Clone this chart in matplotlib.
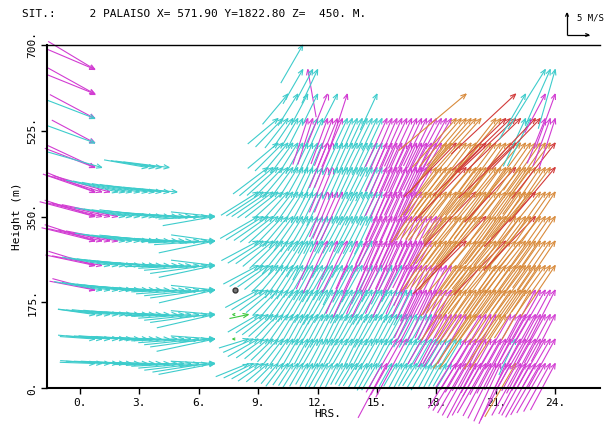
import numpy as np
import matplotlib
matplotlib.use("Agg")
import matplotlib.pyplot as plt
from matplotlib.collections import LineCollection

plt.rcParams["font.family"] = ["DejaVu Sans Mono"]

# niveaux de mesure (m)
levels = [50, 100, 150, 200, 250, 300, 350, 400, 450, 500, 550, 600, 650, 700]

# code couleur : c=cyan, m=magenta, o=orange, r=rouge, g=vert, .=pas de donnee
colors = {"c": "#3ecccc", "m": "#d23cd2", "o": "#d98b3c", "r": "#d23a3a", "g": "#3cc83c"}

# ---- matin (profils, doublons = eventails) ----
am_hours = [0.75, 0.75, 1.1, 1.5, 1.9, 2.25, 2.6, 3.0, 3.4, 3.75, 4.1, 4.5, 4.9,
            5.25, 5.6, 6.0, 6.4, 6.8, 6.8, 6.8]
am_col = {
    650: "mm" + "." * 18, 600: "mm" + "." * 18,
    550: "mc" + "." * 18, 500: "mc" + "." * 18,
    450: "mmc" + "." * 5 + "cccc" + "." * 8,
    400: "mmmm" + "c" * 9 + "." * 7,
    350: "mmmmm" + "c" * 15,
    300: "mmmmm" + "c" * 15,
    250: "mmm" + "c" * 17,
    200: "mm" + "c" * 18,
    150: "c." + "c" * 18,
    100: "c." + "c" * 18,
    50: "c." + "c" * 18,
}
# vitesse (m/s)
am_spd = {
    650: [12.4, 11.8], 600: [12.2, 11.7], 550: [11.6, 11.6], 500: [11.1, 11.6],
    450: [11.8, 12.2, 12.7, 10, 10, 10.5, 10.5],
    400: [12, 12.5, 13, 13.5, 12, 12, 11.5, 11, 11, 11, 10.5, 10.5, 10],
    350: [12, 13, 13, 13.5, 13, 11.5, 11, 11, 11, 11, 10.5, 10.5, 10, 10, 10, 10.5,
          11, 12, 10, 9],
    300: [12, 12.5, 12.5, 12, 12, 11.5, 11, 11, 11, 11.5, 11.5, 11, 11, 11, 11.5,
          11.5, 12, 13, 10, 8],
    250: [11, 11.5, 11.5, 11, 11, 11, 11, 11.5, 11.5, 11, 11.5, 11.5, 12, 12, 12,
          12.5, 13, 13, 10, 8],
    200: [10, 10.5, 11, 11, 11, 11, 11, 11.5, 11.5, 11.5, 12, 12, 12, 12, 12.5,
          12.5, 13, 13, 10, 8],
    150: [8.5, 10, 10, 10.5, 10.5, 11, 11, 11, 11, 11.5, 11.5, 12, 12, 12, 12.5, 13,
          13.5, 10, 8],
    100: [8, 10, 10, 10, 10.5, 10.5, 11, 11, 11, 11.5, 11.5, 12, 12, 12, 12.5, 13,
          13.5, 10, 8],
    50: [8, 9.5, 10, 10, 10, 10.5, 10.5, 11, 11, 11, 11.5, 11.5, 12, 12, 12.5, 12.5,
         13, 10, 8],
}
# direction de la fleche (deg, depuis l'est)
am_ang = {
    650: [-31, -23], 600: [-29, -22], 550: [-28, -21], 500: [-28, -20],
    450: [-25, -21, -16, -10, -9, -8, -7],
    400: [-22, -19, -17, -16, -13, -12, -11, -10, -9, -8, -7, -6, -5],
    350: [-18, -15, -14, -13, -12, -10, -9, -8, -8, -7, -6, -5, -4, -3, -1, 1, 3,
          10, -6, 2],
    300: [-18, -14, -13, -12, -11, -9, -8, -7, -7, -6, -5, -4, -3, -2, 0, 2, 4, 12,
          -8, 4],
    250: [-17, -12, -11, -10, -9, -8, -7, -6, -5, -4, -3, -2, 0, 1, 3, 5, 8, 12, -7,
          3],
    200: [-15, -11, -10, -9, -8, -7, -6, -5, -4, -3, -2, -1, 0, 2, 4, 6, 8, 13, -6,
          4],
    150: [-8, -7, -6, -6, -5, -5, -4, -3, -3, -2, -1, 0, 2, 4, 6, 8, 13, -5, 5],
    100: [-4, -5, -4, -4, -4, -3, -3, -2, -2, -1, 0, 1, 2, 4, 6, 8, 12, -4, 5],
    50: [-2, -4, -3, -3, -3, -2, -2, -1, -1, 0, 1, 2, 3, 5, 7, 9, 11, -3, 5],
}

# ---- apres-midi : un profil par quart d'heure, 8h30 -> 24h ----
pm_hours = [8.5, 8.75, 9.0, 9.25, 9.5, 9.75, 10.0, 10.25, 10.5, 10.75, 11.0,
            11.25, 11.5, 11.75, 12.0, 12.25, 12.5, 12.75, 13.0, 13.25, 13.5,
            13.75, 14.0, 14.25, 14.5, 14.75, 15.0, 15.25, 15.5, 15.75, 16.0,
            16.25, 16.5, 16.75, 17.0, 17.25, 17.5, 17.75, 18.0, 18.25, 18.5,
            18.75, 19.0, 19.25, 19.5, 19.75, 20.0, 20.25, 20.5, 20.75, 21.0,
            21.25, 21.5, 21.75, 22.0, 22.25, 22.5, 22.75, 23.0, 23.25, 23.5,
            23.75, 24.0]
pm_col = {
    50: "c" * 28 + "m" + "c" * 13 + "m" * 12 + "o" + "m" * 8,
    100: "c" * 30 + "mmm" + "c" * 11 + "m" * 10 + "c" + "m" * 8,
    150: "g." + "c" * 36 + "m" * 7 + "oo" + "m" * 4 + "oo" + "m" * 10,
    200: ".." + "c" * 32 + "m" * 8 + "o" * 16 + "m" * 5,
    250: ".." + "c" * 18 + "mcmcmcmcmcmc" + "m" * 10 + "o" * 21,
    300: ".." + "c" * 12 + "mcmcmcmcmcmc" + "m" * 12 + "o" * 6 + "r" + "o" * 7 + "r" + "o" * 10,
    350: ".." + "c" * 24 + "m" * 14 + "o" * 8 + "r" + "o" * 9 + "r" + "o" * 4,
    400: ".." + "c" * 14 + "m" * 4 + "c" * 8 + "m" * 8 + "o" * 10 + "r" + "o" * 11 + "r" + "o" * 4,
    450: "...." + "c" * 12 + "mm" + "c" * 10 + "m" * 10 + "o" * 6 + "r" + "o" * 9 + "r" + "o" * 7 + "r",
    500: "......" + "c" * 10 + "mm" + "c" * 10 + "m" * 12 + "oor" + "o" * 5 + "r" + "o" * 5 + "r" + "o" * 7 + "r",
    550: "......" + "c" * 6 + "mm" + "cc" + "mmmm" + "c" * 8 + "m" * 14 + "o" * 6 + ".." + "oo" + "rrrr" + "cc" + "rr" + "mmm",
    600: "." * 8 + "c.c.c.c." + "m.c.m" + "." * 5 + "c" + "." * 17 + "o" + "." * 9 + "r.c" + "..." + "m.m",
    650: "." * 11 + "cmcc" + "." * 45 + "ccc",
    700: "." * 11 + "c" + "." * 51,
}
pm_spd = {
    50: [8, 7.5, 7, 7, 6.5, 6, 6, 6.5, 6, 6, 6.5, 6, 5.5, 6, 6, 6.5, 6.5, 6, 6, 5.5,
         5.5, 6, 6, 6.5, 6.5, 7, 7, 6.5, 14, 6, 6, 6.5, 6.5, 6, 6, 6.5, 7, 6.5, 6.5,
         6, 6, 6.5, 12, 12.5, 13, 13.5, 14, 13.5, 13, 13.5, 14, 14.5, 15, 14.5, 14,
         13.5, 13, 13.5, 14, 13.5, 13, 12.5, 12],
    100: [7, 7.5, 8, 7.5, 7, 7, 7, 7.5, 7, 7, 7.5, 7, 6.5, 7, 7, 7.5, 7.5, 7, 7, 6.5,
          6.5, 7, 7, 7.5, 7.5, 8, 8, 7.5, 7, 7, 14, 14.5, 15, 7, 7, 7.5, 7.5, 7, 7,
          7.5, 8, 8, 7.5, 8, 13, 13.5, 14, 13.5, 13, 14, 15, 14.5, 14, 13, 9, 12.5,
          13, 13.5, 14, 13.5, 13, 13, 13],
    150: [4.4, 8, 7.5, 7.5, 7.5, 7.5, 8, 8, 8, 8, 7.5, 7.5, 8, 8, 8.5, 8.5, 8, 7.5,
          7.5, 8, 8, 7.5, 8, 8, 8.5, 8.5, 8, 8, 7.5, 7.5, 8, 8, 8.5, 8.5, 8, 8, 8,
          13, 13, 13.5, 13, 14, 13.5, 13, 15, 15, 14, 14, 13.5, 13, 15, 15, 14, 14,
          13, 13.5, 13, 14, 14, 13, 12.5, 12],
    200: [8.5, 8.5, 8, 8, 8, 8.5, 8.5, 8.5, 8.5, 8, 8, 8.5, 8.5, 9, 9, 8.5, 8, 8, 8.5,
          8.5, 8, 8, 8.5, 9, 9, 8.5, 8.5, 8, 8, 8.5, 8.5, 9, 12, 12.5, 13, 13, 12,
          12.5, 13, 13, 14, 13.5, 13, 14, 15, 14.5, 14, 14, 14, 14.5, 15, 14.5, 14,
          13.5, 13, 13, 13, 13.5, 14, 13.5, 13],
    250: [9, 9, 8.5, 8.5, 8.5, 8.5, 9, 9, 9, 8.5, 8.5, 9, 9, 9.5, 9.5, 9, 9, 10, 12,
          9.5, 13, 9.5, 12, 10, 13, 9.5, 12, 10, 13, 9.5, 12, 10, 13, 13.5,
          14, 13.5, 13, 12.5, 12, 13, 14, 13.5, 13, 14, 15, 14.5, 14, 13.5, 13, 14,
          15, 14.5, 14, 13.5, 13, 13.5, 14, 13.5, 13, 13.5, 14],
    300: [9.5, 9.5, 9, 9, 9, 9, 9.5, 9.5, 9, 9, 9.5, 10, 12, 10, 13, 9.5, 12, 10,
          13, 9.5, 12, 10, 13, 9.5, 12, 12.5, 13, 12.5, 12, 12.5, 13, 12.5, 12,
          12.5, 13, 13.5, 14, 13.5, 13, 13.5, 14, 14.5, 17, 15, 14, 13.5, 13, 14, 15,
          15.5, 17, 15, 14, 14.5, 15, 14.5, 14, 13.5, 13, 13.5, 14],
    350: [10, 10, 9.5, 9.5, 9, 9, 9, 9, 9.5, 9.5, 9, 9, 9.5, 9.5, 9, 9, 9.5, 9.5, 9,
          9, 9.5, 9.5, 9, 9.5, 12, 12.5, 13, 12.5, 12, 12.5, 13, 12.5, 12, 12.5, 13,
          12.5, 12, 13, 14, 13.5, 13, 13.5, 14, 13.5, 13, 15, 17, 15, 14, 13.5, 13,
          14, 15, 14.5, 14, 15.5, 17, 15, 14, 14, 14],
    400: [10, 10, 10, 10, 9.5, 9, 9, 8.5, 8.5, 8, 8, 8, 8, 8.5, 11, 11.5, 12, 12, 8,
          8, 8.5, 8.5, 8, 8, 8.5, 8.5, 12, 12.5, 13, 12.5, 12, 12.5, 13, 13.5, 14,
          13.5, 13, 13.5, 14, 13.5, 13, 14, 15, 16, 17, 15, 14, 13.5, 13, 14, 15,
          14.5, 14, 13.5, 13, 15, 17, 15, 14, 14, 14],
    450: [10, 10, 9.5, 9.5, 9, 8.5, 8, 8, 7.5, 7.5, 8, 8, 11, 11, 8, 8, 7.5, 7.5, 8,
          8, 8.5, 8.5, 8, 8, 12, 12.5, 13, 12.5, 12, 12.5, 13, 12.5, 12, 13, 14, 13.5,
          13, 13.5, 14, 15, 17, 15, 14, 13.5, 13, 14, 15, 14.5, 14, 15, 17, 15, 14,
          13.5, 13, 14, 14, 15, 16],
    500: [9, 9, 8.5, 8.5, 8, 8, 7.5, 7.5, 7.5, 7.5, 11, 11, 8, 8, 7.5, 7.5, 8, 8, 8,
          8, 8.5, 8.5, 12, 12.5, 13, 12.5, 12, 12.5, 13, 12.5, 12, 12.5, 13, 13.5,
          14, 14.5, 17, 15, 14, 13.5, 13, 15, 17, 15, 14, 14.5, 15, 16, 18, 16, 14,
          13.5, 13, 13.5, 14, 15, 16],
    550: [9, 9, 8.5, 8, 7.5, 7.5, 11, 11, 7, 7, 11, 11.5, 12, 12, 7.5, 7.5, 7, 7,
          7.5, 7.5, 8, 8, 12, 12.5, 13, 12.5, 12, 12.5, 13, 12.5, 12, 12.5, 13, 13.5,
          14, 14, 15, 14.5, 14, 15, 16, 16, 14, 15, 17, 17.5, 18, 17, 12, 12, 16, 16,
          11, 11.5, 12],
    600: [9, 8.5, 8, 8, 12, 8, 12, 9, 20, 20, 12, 10, 13],
    650: [9, 11, 8, 8.5, 16, 14, 14],
    700: [10],
}
pm_ang = {
    50: [22, 26, 30, 35, 40, 45, 50, 53, 55, 57, 58, 60, 60, 61, 62, 60, 60, 62, 63,
         61, 60, 59, 58, 60, 62, 61, 60, 62, 62, 61, 60, 62, 62, 60, 58, 59, 60, 62,
         62, 61, 60, 59, 58, 59, 60, 61, 62, 61, 60, 62, 63, 65, 66, 62, 60, 61, 62,
         61, 61, 60, 60, 61, 62],
    100: [17, 24, 30, 35, 40, 44, 48, 52, 55, 58, 60, 61, 62, 61, 60, 62, 63, 62, 62,
          61, 60, 62, 64, 63, 62, 61, 60, 62, 63, 62, 60, 61, 62, 62, 62, 61, 60, 61,
          62, 60, 58, 59, 60, 59, 58, 59, 60, 61, 62, 61, 60, 61, 62, 63, 65, 62, 60,
          61, 62, 61, 60, 60, 61],
    150: [12, 30, 34, 38, 42, 46, 50, 55, 58, 60, 61, 62, 61, 60, 62, 62, 63, 64, 63,
          62, 61, 60, 61, 62, 62, 60, 61, 63, 62, 62, 61, 60, 61, 62, 61, 60, 60, 60,
          61, 62, 60, 58, 59, 60, 55, 56, 58, 60, 61, 62, 56, 57, 60, 61, 62, 61, 60,
          61, 62, 61, 62, 63],
    200: [28, 32, 36, 40, 45, 50, 55, 57, 58, 59, 60, 61, 62, 61, 60, 61, 62, 62, 63,
          62, 60, 61, 62, 61, 60, 61, 62, 61, 60, 61, 62, 63, 65, 64, 63, 65, 66, 65,
          64, 63, 55, 56, 57, 56, 55, 55, 56, 55, 54, 55, 56, 56, 55, 56, 57, 60, 62,
          61, 60, 62, 63],
    250: [28, 32, 35, 40, 45, 50, 55, 57, 58, 59, 60, 61, 62, 61, 60, 61, 62, 64, 66,
          62, 65, 61, 67, 62, 64, 61, 66, 62, 65, 61, 67, 66, 64, 65, 65, 64, 63, 64,
          64, 60, 55, 54, 53, 54, 55, 53, 52, 54, 56, 55, 54, 55, 55, 54, 53, 54, 55,
          55, 54, 55, 56],
    300: [28, 32, 35, 40, 44, 48, 52, 54, 56, 58, 60, 63, 66, 62, 65, 61, 67, 62,
          64, 61, 66, 62, 65, 61, 67, 66, 64, 65, 66, 65, 65, 64, 63, 63, 62, 60, 55,
          54, 53, 53, 52, 50, 45, 50, 54, 53, 52, 51, 50, 48, 46, 50, 53, 52, 52, 53,
          54, 55, 55, 56, 56],
    350: [30, 32, 35, 38, 42, 46, 50, 53, 55, 58, 60, 61, 62, 63, 64, 63, 62, 62, 63,
          63, 62, 63, 64, 65, 66, 65, 65, 66, 67, 66, 64, 65, 66, 65, 65, 64, 63, 60,
          54, 53, 52, 53, 55, 54, 53, 50, 46, 50, 54, 53, 52, 53, 55, 54, 53, 50, 46,
          51, 55, 55, 56],
    400: [32, 33, 34, 36, 38, 42, 48, 52, 55, 58, 62, 63, 64, 65, 68, 67, 66, 66, 64,
          63, 62, 63, 64, 64, 63, 64, 66, 65, 65, 66, 67, 66, 64, 60, 55, 54, 53, 53,
          52, 53, 54, 52, 50, 48, 46, 50, 53, 52, 52, 53, 54, 54, 55, 54, 53, 50, 47,
          51, 55, 55, 56],
    450: [37, 40, 42, 46, 50, 54, 58, 61, 64, 65, 66, 67, 68, 68, 65, 66, 66, 65, 64,
          64, 63, 64, 65, 65, 66, 67, 67, 66, 65, 65, 66, 65, 64, 60, 54, 53, 53, 52,
          52, 50, 46, 50, 54, 53, 53, 52, 52, 54, 55, 50, 47, 51, 54, 55, 55, 56, 56,
          53, 50],
    500: [40, 45, 50, 54, 58, 61, 64, 65, 66, 67, 68, 68, 65, 66, 66, 65, 64, 64, 65,
          64, 63, 64, 66, 67, 67, 66, 65, 65, 66, 65, 64, 64, 63, 60, 54, 50, 46, 50,
          52, 53, 54, 50, 45, 50, 53, 54, 55, 50, 44, 50, 54, 55, 56, 55, 55, 53, 52],
    550: [40, 46, 52, 56, 60, 63, 72, 72, 66, 66, 70, 69, 68, 67, 65, 66, 66, 65, 64,
          64, 65, 65, 66, 67, 67, 66, 65, 65, 66, 65, 64, 64, 63, 62, 62, 60, 48, 49,
          50, 49, 47, 48, 52, 50, 44, 44, 43, 44, 65, 64, 46, 46, 68, 70, 72],
    600: [50, 58, 62, 64, 68, 63, 72, 65, 40, 43, 60, 62, 70],
    650: [60, 100, 62, 65, 58, 66, 74],
    700: [60],
}

# petites marques vertes et point de calme
green_hours = [7.7, 7.7]
green_levels = [150, 100]
calm_hour, calm_level = 7.8, 200

px_per_ms = 4.4      # echelle : pixels par m/s
ref_speed = 5        # fleche de reference


def collect(hours, col, spd, ang):
    recs = []
    for z in levels:
        if z not in col:
            continue
        assert len(col[z]) == len(hours), (z, len(col[z]))
        vals = list(zip(spd[z], ang[z]))
        n = len(col[z].replace(".", ""))
        assert len(spd[z]) == n and len(ang[z]) == n, (z, n, len(spd[z]), len(ang[z]))
        k = 0
        for t, c in zip(hours, col[z]):
            if c == ".":
                continue
            s, a = vals[k]
            k += 1
            recs.append((t, z, s, a, c))
    return recs


def arrow_px(tip, spd, ang_deg, head=6.0):
    a = np.deg2rad(ang_deg)
    L = spd * px_per_ms
    d = np.array([np.cos(a), np.sin(a)])
    tail = tip - L * d
    h = min(head, max(0.6 * L, 3.0))
    segs = [np.array([tail, tip])]
    for s in (1, -1):
        b = a + np.pi + s * np.deg2rad(22)
        segs.append(np.array([tip, tip + h * np.array([np.cos(b), np.sin(b)])]))
    return segs


W, H = 605, 424
fig = plt.figure(figsize=(W / 100, H / 100), dpi=100)
ax = fig.add_axes([47 / W, 36 / H, 553 / W, 343 / H])
ax.set_xlim(-1.67, 26.26)
ax.set_ylim(0, 700)

recs = collect(am_hours, am_col, am_spd, am_ang) + collect(pm_hours, pm_col, pm_spd, pm_ang)
recs.sort(key=lambda r: r[0])

to_data = ax.transData.inverted()
segs, cols = [], []
for t, z, s, a, c in recs:
    tip = ax.transData.transform((t, z))
    for sg in arrow_px(tip, s, a):
        segs.append(to_data.transform(sg))
        cols.append(colors[c])
for t, z in zip(green_hours, green_levels):
    tip = ax.transData.transform((t, z))
    for sg in arrow_px(tip, 0.3, 180, head=3):
        segs.append(to_data.transform(sg))
        cols.append(colors["g"])

lc = LineCollection(segs, colors=cols, linewidths=0.8, clip_on=False)
ax.add_collection(lc)
ax.plot([calm_hour], [calm_level], "o", ms=3.5, mfc="#777777", mec="#333333",
        mew=1.0, clip_on=False)

# axes
ax.spines["right"].set_visible(False)
ax.spines["top"].set_linewidth(1.0)
ax.spines["left"].set_linewidth(1.5)
ax.spines["bottom"].set_linewidth(1.5)
xt = [0, 3, 6, 9, 12, 15, 18, 21, 24]
ax.set_xticks(xt)
ax.set_xticklabels([f"{v}." for v in xt])
yt = [0, 175, 350, 525, 700]
ax.set_yticks(yt)
ax.set_yticklabels([f"{v}." for v in yt], rotation=90, va="center")
ax.tick_params(direction="out", length=4, width=1, labelsize=8, pad=3)

fig.text(328 / W, 1 - 414 / H, "HRS.", ha="center", va="center", fontsize=8)
fig.text(17 / W, 1 - 216 / H, "Height (m)", ha="center", va="center",
         rotation=90, fontsize=8)
fig.text(22 / W, 1 - 14 / H, "SIT.:     2 PALAISO X= 571.90 Y=1822.80 Z=  450. M.",
         ha="left", va="center", fontsize=8)

# fleche de reference 5 m/s
corner = np.array([567.0, H - 35.0])
leg = []
for ang in (90, 0):
    tip = corner + ref_speed * px_per_ms * np.array([np.cos(np.deg2rad(ang)), np.sin(np.deg2rad(ang))])
    for sg in arrow_px(tip, ref_speed, ang, head=4):
        leg.append(sg / np.array([W, H]))
fig.add_artist(LineCollection(leg, colors="black", linewidths=0.9,
                              transform=fig.transFigure))
fig.text(577 / W, 1 - 18 / H, "5 M/S", ha="left", va="center", fontsize=6.5)

fig.savefig("out.png", dpi=100)
